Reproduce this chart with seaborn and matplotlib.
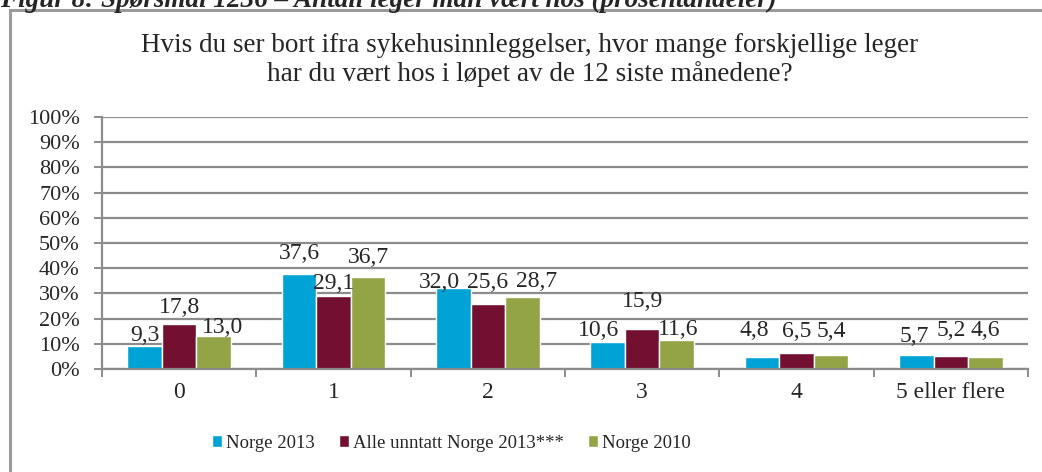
import matplotlib as mpl
import pandas as pd
import seaborn as sns
from matplotlib import pyplot as plt
from matplotlib.patches import Rectangle
from matplotlib.ticker import FixedLocator, PercentFormatter

sns.set_theme(style='white')
mpl.rcParams['font.family'] = ['Liberation Serif', 'DejaVu Serif']

kategorier = ['0', '1', '2', '3', '4', '5 eller flere']
serier = ['Norge 2013', 'Alle unntatt Norge 2013***', 'Norge 2010']
norge_2013 = [9.3, 37.6, 32.0, 10.6, 4.8, 5.7]
alle_unntatt = [17.8, 29.1, 25.6, 15.9, 6.5, 5.2]
norge_2010 = [13.0, 36.7, 28.7, 11.6, 5.4, 4.6]
farger = ['#00a3d6', '#731031', '#93a446']

rows = []
for serie, verdier in zip(serier, [norge_2013, alle_unntatt, norge_2010]):
    for kat, v in zip(kategorier, verdier):
        rows.append({'kategori': kat, 'serie': serie, 'verdi': v})
df = pd.DataFrame(rows)

fig = plt.figure(figsize=(10.42, 4.72), dpi=100)
ax = fig.add_axes([0.0979, 0.2182, 0.8887, 0.5339])

sns.barplot(ax=ax, data=df, x='kategori', y='verdi', hue='serie',
            order=kategorier, hue_order=serier, palette=farger,
            width=0.67, saturation=1, errorbar=None)

ax.set_ylim(0, 100)
ax.set_xlim(-0.5, len(kategorier) - 0.5)
ax.set(xlabel='', ylabel='')
ax.set_yticks(range(0, 101, 10))
ax.yaxis.set_major_formatter(PercentFormatter(decimals=0))
ax.yaxis.grid(True, color='#8c8c8c', linewidth=1.6)
ax.set_axisbelow(True)
for side in ['top', 'right']:
    ax.spines[side].set_visible(False)
for side in ['left', 'bottom']:
    ax.spines[side].set_color('#8c8c8c')
    ax.spines[side].set_linewidth(1.6)

ax.tick_params(axis='y', left=True, length=6, width=1.4, color='#8c8c8c',
               pad=10, labelsize=16)
ax.tick_params(axis='x', which='major', length=0, pad=9, labelsize=17)
ax.xaxis.set_minor_locator(FixedLocator([i - 0.5 for i in range(len(kategorier) + 1)]))
ax.tick_params(axis='x', which='minor', bottom=True, length=6, width=1.4,
               color='#8c8c8c')

# verdier over stolpene (komma som desimaltegn); Excel har flyttet noen
# etiketter litt for å unngå overlapp, forskyvning i piksler (dx, dy)
flytt_x = [[0, 0, -14, -9, -8, -2],
           [0, 0, 0, 0, 0, 0],
           [9, 0, 14, 2, 0, 0]]
flytt_y = [[10, 21, 6, 12, 26, 18],
           [17, 12, 22, 27, 21, 25],
           [9, 19, 15, 10, 24, 27]]
for i, (cont, verdier) in enumerate(zip(ax.containers,
                                        [norge_2013, alle_unntatt, norge_2010])):
    for j, (bar, v) in enumerate(zip(cont.patches, verdier)):
        ax.annotate(f'{v:.1f}'.replace('.', ','),
                    (bar.get_x() + bar.get_width() / 2, bar.get_height()),
                    xytext=(flytt_x[i][j] * 0.72, flytt_y[i][j] * 0.72),
                    textcoords='offset points', ha='center', va='center',
                    fontsize=17)

handles, labels = ax.get_legend_handles_labels()
ax.legend(handles, labels, loc='center', bbox_to_anchor=(0.433, 0.061),
          bbox_transform=fig.transFigure, ncol=3, frameon=False,
          fontsize=13.5, handlelength=0.55, handleheight=0.55,
          handletextpad=0.2, columnspacing=1.3)

fig.text(0.508, 0.873,
         'Hvis du ser bort ifra sykehusinnleggelser, hvor mange forskjellige leger\n'
         'har du vært hos i løpet av de 12 siste månedene?',
         ha='center', va='center', fontsize=19.5, linespacing=1.17)

# avkuttet figurtekst helt øverst
fig.text(0.0, 1 - 7 / 472,
         'Figur 8: Spørsmål 1236 – Antall leger man vært hos (prosentandeler)',
         ha='left', va='baseline', fontsize=19.5, style='italic', weight='bold')

# ramme rundt diagrammet
fig.patches.append(Rectangle((10 / 1042, -0.1), 1.2, 1 - 10 / 472 + 0.1,
                             transform=fig.transFigure, fill=False,
                             edgecolor='#9a9a9a', linewidth=2.2))

fig.savefig('out.png', dpi=100)
